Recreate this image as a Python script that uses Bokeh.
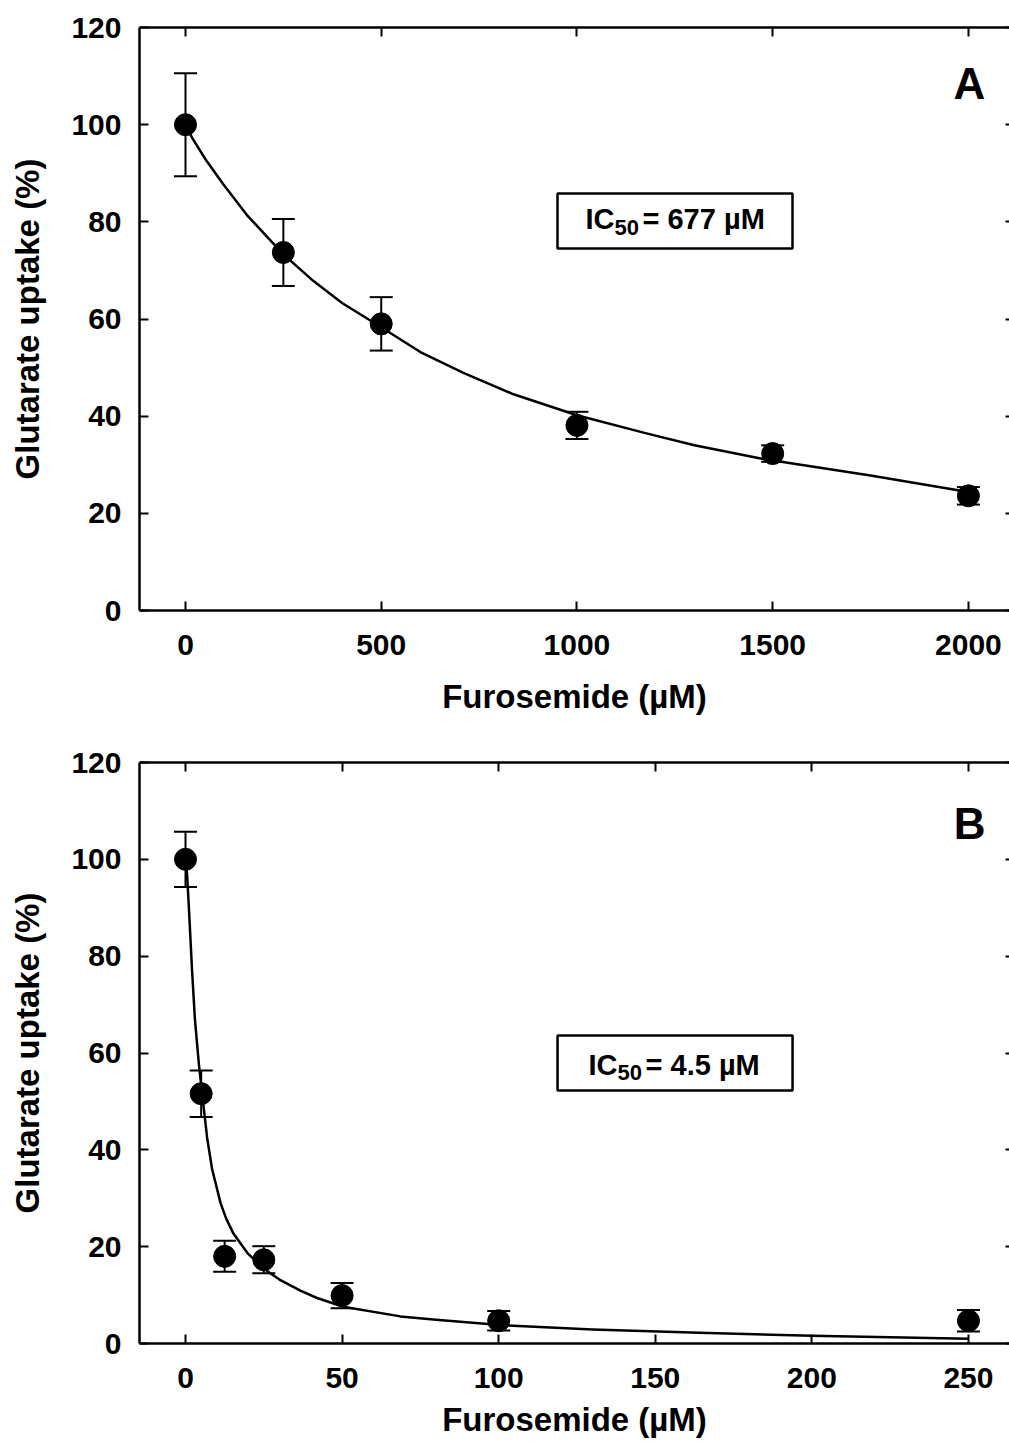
from bokeh.plotting import figure
from bokeh.layouts import column
from bokeh.models import (ColumnDataSource, Whisker, TeeHead, LinearAxis, Range1d,
                          FixedTicker, Label, BoxAnnotation)
from bokeh.embed import file_html
from bokeh.resources import INLINE

# ---------------- data ----------------
# Panel A
a_conc = [0, 250, 500, 1000, 1500, 2000]
a_uptake = [100, 73.7, 59.0, 38.1, 32.3, 23.6]
a_err = [10.6, 6.9, 5.5, 2.8, 1.7, 1.8]
a_fit_x = [0, 17, 50, 97, 157, 250, 327, 400, 500, 600, 710, 838, 1000, 1180, 1300, 1476, 1750, 2000]
a_fit_y = [100, 97.3, 93.0, 87.7, 81.4, 73.3, 67.8, 63.3, 58.3, 53.2, 48.9, 44.5, 40.2, 36.4, 34.0, 31.2, 27.8, 24.4]
a_ic50 = "677"
a_letter = "A"

# Panel B
b_conc = [0, 5, 12.5, 25, 50, 100, 250]
b_uptake = [100, 51.6, 18.0, 17.3, 9.9, 4.7, 4.7]
b_err = [5.7, 4.8, 3.2, 2.8, 2.6, 2.0, 2.2]
b_fit_x = [0, 0.5, 1.0, 2.1, 3.0, 4.3, 5.3, 6.9, 8.5, 11.2, 13, 15.3, 20, 26, 30, 36.7, 42, 50.4, 68.6, 80, 100.4, 130, 164, 200, 250]
b_fit_y = [100, 96.9, 91.0, 77.0, 67.0, 57.5, 51.6, 42.5, 36.0, 29.0, 25.8, 22.7, 18.5, 15.0, 13.2, 10.9, 9.4, 7.6, 5.6, 4.9, 3.8, 2.9, 2.2, 1.6, 1.0]
b_ic50 = "4.5"
b_letter = "B"

y_ticks = [0, 20, 40, 60, 80, 100, 120]
a_x_ticks = [0, 500, 1000, 1500, 2000]
b_x_ticks = [0, 50, 100, 150, 200, 250]

x_label = "Furosemide (µM)"
y_label = "Glutarate uptake (%)"

FONT = "Liberation Sans"


def make_panel(conc, uptake, err, fit_x, fit_y, ic50, letter, x_ticks,
               x_range, height, border_bottom, xlabel_standoff, box, txt, letter_pos):
    p = figure(width=1009, height=height, output_backend="svg", toolbar_location=None,
               x_range=Range1d(*x_range), y_range=Range1d(0, 120),
               min_border_left=139, min_border_right=0, min_border_top=27,
               min_border_bottom=border_bottom, x_axis_location=None, y_axis_location=None)
    p.outline_line_color = None
    p.grid.visible = False
    p.background_fill_color = "white"
    p.border_fill_color = "white"

    def style(ax, ticks, labels=True):
        ax.ticker = FixedTicker(ticks=ticks)
        ax.axis_line_width = 2.5
        ax.axis_line_color = "black"
        ax.major_tick_line_width = 2
        ax.major_tick_in = 9
        ax.major_tick_out = 0
        ax.minor_tick_line_color = None
        ax.major_label_text_font = FONT
        ax.major_label_text_font_style = "bold"
        ax.major_label_text_font_size = "30px"
        ax.major_label_text_color = "black"
        ax.axis_label_text_font = FONT
        ax.axis_label_text_font_style = "bold"
        ax.axis_label_text_font_size = "33px"
        ax.axis_label_text_color = "black"
        if not labels:
            ax.major_label_overrides = {t: "" for t in ticks}
            ax.major_label_standoff = 0

    xb = LinearAxis(axis_label=x_label)
    style(xb, x_ticks)
    xb.major_label_standoff = 24
    xb.axis_label_standoff = xlabel_standoff
    p.add_layout(xb, "below")

    yl = LinearAxis(axis_label=y_label)
    style(yl, y_ticks)
    yl.major_label_standoff = 18
    yl.axis_label_standoff = 22
    p.add_layout(yl, "left")

    xt = LinearAxis()
    style(xt, x_ticks, labels=False)
    p.add_layout(xt, "above")

    yr = LinearAxis()
    style(yr, y_ticks, labels=False)
    yr.axis_line_color = None
    yr.major_tick_in = 4
    p.add_layout(yr, "right")

    src = ColumnDataSource(dict(x=conc, y=uptake,
                                up=[u + e for u, e in zip(uptake, err)],
                                lo=[u - e for u, e in zip(uptake, err)]))
    w = Whisker(source=src, base="x", upper="up", lower="lo", line_width=2, line_color="black",
                upper_head=TeeHead(size=23, line_width=2, line_color="black"),
                lower_head=TeeHead(size=23, line_width=2, line_color="black"))
    p.add_layout(w)
    p.line(fit_x, fit_y, line_width=2.5, line_color="black", line_join="round")
    p.scatter("x", "y", source=src, size=22, fill_color="black", line_color="black")

    # IC50 box
    p.add_layout(BoxAnnotation(left=box[0], right=box[1], bottom=box[2], top=box[3],
                               fill_color=None, fill_alpha=0, line_color="black",
                               line_alpha=1.0, line_width=2.5))
    common = dict(text_font=FONT, text_font_style="bold", text_color="black",
                  text_baseline="alphabetic")
    p.add_layout(Label(x=txt[0], y=txt[3], text="IC", text_font_size="29px", **common))
    p.add_layout(Label(x=txt[1], y=txt[4], text="50", text_font_size="22px", **common))
    p.add_layout(Label(x=txt[2], y=txt[3], text="= " + ic50 + " µM", text_font_size="29px", **common))

    p.add_layout(Label(x=letter_pos[0], y=letter_pos[1], text=letter, text_font=FONT,
                       text_font_style="bold", text_font_size="44px", text_align="center",
                       text_baseline="middle", text_color="black"))
    return p


# pixel-to-data helpers for annotation placement (layout only)
def ax_(px, x0, s):
    return (px - x0) / s


sA = 0.39145
sB = 3.1316
pA = make_panel(a_conc, a_uptake, a_err, a_fit_x, a_fit_y, a_ic50, a_letter, a_x_ticks,
                (-117.5, 2105), 735, 125, 20,
                (ax_(557, 185, sA), ax_(792, 185, sA), (610 - 248) / 4.858, (610 - 193) / 4.858),
                (ax_(585, 185, sA), ax_(614, 185, sA), ax_(642, 185, sA),
                 (610 - 219) / 4.858, (610 - 227) / 4.858),
                (ax_(969, 185, sA), (610 - 83) / 4.858))
pB = make_panel(b_conc, b_uptake, b_err, b_fit_x, b_fit_y, b_ic50, b_letter, b_x_ticks,
                (-14.69, 263.1), 708, 100, 10,
                (ax_(557, 185, sB), ax_(792, 185, sB), (1343 - 1090) / 4.842, (1343 - 1035) / 4.842),
                (ax_(588, 185, sB), ax_(617, 185, sB), ax_(645, 185, sB),
                 (1343 - 1064) / 4.842, (1343 - 1072) / 4.842),
                (ax_(969, 185, sB), (1343 - 823) / 4.842))

layout = column(pA, pB, spacing=0)
with open("out.html", "w") as f:
    f.write(file_html(layout, INLINE))
